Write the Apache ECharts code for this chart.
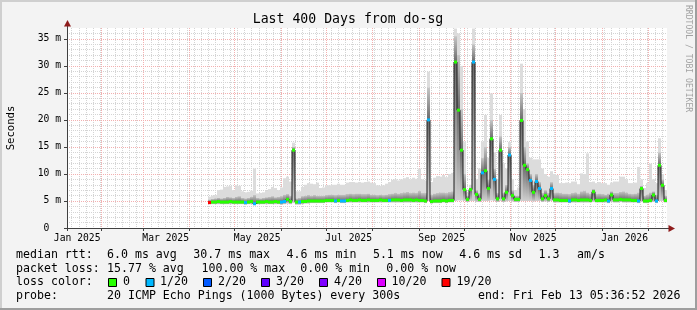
<!DOCTYPE html>
<html>
<head>
<meta charset="utf-8">
<script src="https://cdn.jsdelivr.net/npm/echarts@6.0.0/dist/echarts.min.js"></script>
<style>
html,body{margin:0;padding:0;background:#f3f3f3;}
#chart{width:697px;height:310px;}
</style>
</head>
<body>
<div id="chart"></div>
<script>
// ---------------- data ----------------
const chartTitle = 'Last 400 Days from do-sg';
const yAxisName = 'Seconds';
const endStamp = '2026-02-13T05:36:52Z';
const spanDays = 400;
const sampleStartDay = 95;   // first sample, days after graph start
const sampleStepDays = 2;

// median round-trip time (ms), one value per sample
const medianMs = [
 4.7,4.8,4.8,4.9,4.8,4.8,4.8,4.9,4.8,4.8,
 4.8,4.8,4.7,4.8,4.9,4.5,4.8,4.8,4.8,4.9,
 4.8,4.8,4.9,4.8,4.8,4.9,5.3,4.9,14.4,4.8,
 4.8,4.9,4.9,5.0,5.0,5.0,5.0,5.0,5.0,5.1,
 5.1,5.1,5.0,5.1,5.0,5.0,5.1,5.2,5.1,5.1,
 5.2,5.1,5.1,5.2,5.1,5.1,5.1,5.2,5.1,5.1,
 5.1,5.2,5.2,5.2,5.1,5.2,5.2,5.2,5.1,5.2,
 5.1,5.1,5.0,20.0,4.9,5.0,5.0,5.0,5.1,5.0,
 5.1,5.1,30.7,21.8,14.4,7.1,5.3,7.1,30.7,6.2,
 5.3,10.2,10.6,7.3,16.5,9.0,5.4,14.4,5.4,6.6,
 13.5,6.0,5.3,5.3,19.9,11.6,10.8,8.8,6.6,8.6,
 7.3,5.4,6.0,5.4,7.3,5.2,5.2,5.1,5.1,5.1,
 5.0,5.2,5.2,5.1,5.2,5.2,5.2,5.1,6.7,5.1,
 5.1,5.1,5.2,5.0,6.1,5.2,5.2,5.3,5.2,5.2,
 5.2,5.1,5.1,5.0,7.3,5.0,5.0,5.1,6.1,5.0,
 11.6,7.9,5.1
];
// lost pings out of 20, per sample
const lossPings = [
 19,0,0,0,0,0,0,0,0,0,
 0,0,1,0,0,1,0,0,0,0,
 0,0,0,0,1,1,0,0,0,0,
 1,0,0,0,0,0,0,0,0,0,
 0,0,1,0,1,1,0,0,0,0,
 0,0,0,0,0,0,0,0,0,0,
 1,0,0,0,0,0,0,0,0,0,
 0,0,0,1,0,0,0,0,0,0,
 0,0,0,0,0,0,0,0,1,0,
 0,1,0,0,0,1,0,0,0,0,
 1,0,0,0,0,0,0,1,0,1,
 1,0,0,0,1,0,0,0,0,0,
 1,0,0,0,0,0,0,0,0,0,
 0,0,0,1,0,0,0,0,0,0,
 0,0,0,1,0,0,0,0,0,1,
 0,0,0
];
// smoke: lowest ping, upper quartile-ish, highest ping (ms)
const smokeLowMs = [
 4.4,4.4,4.4,4.4,4.4,4.4,4.4,4.4,4.4,4.4,
 4.4,4.4,4.3,4.4,4.4,4.2,4.4,4.4,4.4,4.4,
 4.4,4.4,4.4,4.4,4.3,4.4,4.5,4.4,4.6,4.3,
 4.3,4.4,4.5,4.5,4.6,4.6,4.6,4.6,4.6,4.7,
 4.7,4.7,4.6,4.7,4.6,4.6,4.7,4.7,4.7,4.7,
 4.7,4.7,4.7,4.7,4.7,4.7,4.7,4.7,4.7,4.7,
 4.7,4.7,4.7,4.7,4.7,4.7,4.7,4.7,4.7,4.7,
 4.7,4.7,4.6,5.0,4.5,4.6,4.6,4.6,4.7,4.6,
 4.7,4.7,5.0,5.1,5.1,5.0,4.8,5.0,5.0,4.8,
 4.8,5.0,5.0,5.0,5.1,5.0,4.8,5.0,4.8,4.9,
 5.0,4.9,4.8,4.8,5.0,5.0,5.0,5.0,4.9,5.0,
 5.0,4.8,4.9,4.8,5.0,4.7,4.7,4.7,4.7,4.7,
 4.6,4.7,4.7,4.7,4.7,4.7,4.7,4.7,4.8,4.7,
 4.7,4.7,4.7,4.6,4.8,4.7,4.7,4.8,4.7,4.7,
 4.7,4.7,4.7,4.6,4.8,4.6,4.6,4.7,4.8,4.6,
 5.0,5.0,4.7
];
const smokeMidMs = [
 5.3,5.4,5.5,5.6,5.5,5.6,5.8,5.7,5.6,5.8,
 5.9,5.6,5.5,5.6,5.8,6.1,5.6,5.5,5.6,5.7,
 5.8,5.9,5.7,5.8,5.9,6.2,6.3,6.0,15.0,5.5,
 5.6,5.9,6.0,6.1,6.0,6.1,6.0,6.0,6.0,6.1,
 6.2,6.2,6.1,6.2,6.2,6.2,6.3,6.4,6.3,6.4,
 6.4,6.3,6.3,6.4,6.2,6.2,6.1,6.2,6.1,6.2,
 6.3,6.4,6.5,6.4,6.5,6.6,6.7,6.5,6.6,6.5,
 6.9,6.5,6.5,26.0,6.2,6.4,6.5,6.6,6.6,6.5,
 6.7,6.8,35.5,32.0,22.0,10.0,6.0,7.5,34.0,7.0,
 6.5,13.0,15.0,9.0,20.0,11.0,6.5,17.0,6.5,8.0,
 15.0,7.0,6.0,6.0,25.0,15.0,12.0,10.0,8.0,10.0,
 8.5,6.5,7.0,6.5,8.5,6.5,6.6,6.5,6.4,6.4,
 6.3,6.5,6.6,6.4,6.8,6.9,6.6,6.4,7.2,6.3,
 6.4,6.3,6.2,6.4,6.8,6.5,6.5,6.7,6.8,6.6,
 6.4,6.3,6.4,6.6,7.8,6.0,6.2,6.6,6.8,6.2,
 14.0,9.0,6.0
];
const smokeHighMs = [
 5.8,6.0,6.1,7.0,7.1,7.6,7.7,7.8,7.0,7.9,
 7.8,6.8,6.6,6.7,6.9,11.0,6.4,6.5,6.6,6.9,
 7.2,7.6,7.4,7.0,7.5,9.2,9.5,8.6,15.8,6.8,
 6.8,7.6,8.0,8.3,8.2,8.1,8.4,7.4,7.5,7.9,
 7.9,8.0,8.0,8.2,8.0,8.0,8.4,8.5,8.5,8.4,
 8.5,8.4,8.5,8.6,8.4,8.3,7.9,7.8,7.9,8.2,
 8.5,8.9,9.0,8.8,9.0,9.2,9.4,9.0,9.3,9.1,
 11.0,9.0,8.8,28.9,8.5,9.3,9.6,9.5,9.8,9.4,
 10.0,10.2,36.9,36.0,30.0,16.0,6.5,8.0,36.9,9.0,
 11.0,16.0,20.9,13.0,24.9,14.0,9.0,20.9,12.0,11.0,
 15.9,9.0,7.0,7.5,30.4,22.0,16.0,13.0,12.7,12.7,
 12.7,11.0,10.0,9.5,10.5,10.0,9.8,8.3,8.3,8.4,
 8.3,8.6,8.6,8.1,10.1,10.0,13.8,8.5,8.6,8.3,
 8.5,8.3,8.3,8.0,8.4,8.6,8.6,9.5,9.5,9.0,
 8.3,8.3,8.4,11.3,9.0,7.4,8.3,11.9,9.0,8.3,
 16.6,10.0,7.0
];

const monthStarts = ['2025-02-01','2025-03-01','2025-04-01','2025-05-01','2025-06-01','2025-07-01',
  '2025-08-01','2025-09-01','2025-10-01','2025-11-01','2025-12-01','2026-01-01','2026-02-01'];
const xLabelMonths = ['2025-01-01','2025-03-01','2025-05-01','2025-07-01','2025-09-01','2025-11-01','2026-01-01'];
const xLabelTexts = ['Jan 2025','Mar 2025','May 2025','Jul 2025','Sep 2025','Nov 2025','Jan 2026'];
const yTickValues = [0,5,10,15,20,25,30,35];
const yMax = 37;

const lossLevels = [0,1,2,3,4,10,19];
const lossLabels = ['0','1/20','2/20','3/20','4/20','10/20','19/20'];
const lossColors = ['#26ff00','#00b8ff','#0059ff','#5e00ff','#7e00ff','#dd00ff','#ff0000'];

const rttStats = ['6.0 ms avg','30.7 ms max','4.6 ms min','5.1 ms now','4.6 ms sd','1.3','am/s'];
const lossStats = ['15.77 % avg','100.00 % max','0.00 % min','0.00 % now'];
const probeText = '20 ICMP Echo Pings (1000 Bytes) every 300s';
const endText = 'end: Fri Feb 13 05:36:52 2026';
const creditText = 'RRDTOOL / TOBI OETIKER';

// ---------------- build ----------------
const DAY = 86400000;
const endTime = Date.parse(endStamp);
const startTime = endTime - spanDays * DAY;
const sampleTimes = medianMs.map((_, i) => startTime + (sampleStartDay + i * sampleStepDays) * DAY);

function lossColor(n) {
  let c = lossColors[0];
  for (let k = 0; k < lossLevels.length; k++) if (n >= lossLevels[k]) c = lossColors[k];
  return c;
}

const smokeData = sampleTimes.map((t, i) => [t, smokeLowMs[i], medianMs[i], smokeMidMs[i], smokeHighMs[i]]);
const medianData = sampleTimes.map((t, i) => [t, medianMs[i]]);
const lossData = sampleTimes.map((t, i) => [t, medianMs[i], lossPings[i]]);

const monthTimes = monthStarts.map(d => Date.parse(d));
const labelTimes = xLabelMonths.map(d => Date.parse(d) + 15 * DAY);
const minorX = [];
for (let t = startTime + 3.1 * DAY; t < endTime; t += 4.8 * DAY) minorX.push(Math.round(t));
const minorY = [];
for (let v = 0; v <= 36; v++) minorY.push(v);

const G = {left: 67, top: 28, width: 600, height: 200};
const MONO = '"DejaVu Sans Mono", monospace';
const majorLine = {color: '#f3b0b0', width: 1, type: [1, 1]};
const minorLine = {color: '#d4d4d4', width: 1, type: [1, 1]};

function vgrad(top, bottom) {
  return {type: 'linear', x: 0, y: 0, x2: 0, y2: 1, global: false,
    colorStops: [{offset: 0, color: top}, {offset: 1, color: bottom}]};
}

function renderSmoke(params, api) {
  const t = api.value(0);
  const lo = api.value(1), med = api.value(2), mid = api.value(3), hi = api.value(4);
  const half = sampleStepDays * DAY / 2;
  const xl = api.coord([t - half, 0])[0];
  const xr = api.coord([t + half, 0])[0];
  const Y = v => api.coord([t, v])[1];
  const w = xr - xl;
  return {type: 'group', children: [
    {type: 'rect', shape: {x: xl, y: Y(hi), width: w, height: Y(mid) - Y(hi)}, style: {fill: '#dcdcdc'}},
    {type: 'rect', shape: {x: xl, y: Y(mid), width: w, height: Y(med) - Y(mid)}, style: {fill: vgrad('#c6c6c6', '#6a6a6a')}},
    {type: 'rect', shape: {x: xl, y: Y(med), width: w, height: Y(lo) - Y(med)}, style: {fill: vgrad('#6a6a6a', '#cfcfcf')}}
  ]};
}

function txt(x, y, s, font, extra) {
  return {type: 'text', x: x, y: y, silent: true,
    style: Object.assign({text: s, font: font, fill: '#000', align: 'left', textAlign: 'left',
      verticalAlign: 'middle', textVerticalAlign: 'middle'}, (extra || {}))};
}

const legendFont = '11.6px ' + MONO;
const graphics = [];
// frame
graphics.push({type: 'rect', shape: {x: 0, y: 0, width: 697, height: 2}, style: {fill: '#cfcfcf'}});
graphics.push({type: 'rect', shape: {x: 0, y: 0, width: 2, height: 310}, style: {fill: '#cfcfcf'}});
graphics.push({type: 'rect', shape: {x: 0, y: 308, width: 697, height: 2}, style: {fill: '#9e9e9e'}});
graphics.push({type: 'rect', shape: {x: 695, y: 0, width: 2, height: 310}, style: {fill: '#9e9e9e'}});
// title & side texts
graphics.push(txt(348, 20, chartTitle, '13.2px ' + MONO, {align: 'center', textAlign: 'center'}));
graphics.push(Object.assign(txt(11, 128, yAxisName, '10.6px ' + MONO, {align: 'center', textAlign: 'center'}), {rotation: Math.PI / 2}));
graphics.push(Object.assign(txt(688, 5, creditText, '8.1px ' + MONO, {fill: '#a2a2a2'}), {rotation: -Math.PI / 2}));
// axes lines & arrows
graphics.push({type: 'line', z: 50, shape: {x1: 67.5, y1: 231, x2: 67.5, y2: 26}, style: {stroke: '#404040', lineWidth: 1}});
graphics.push({type: 'line', z: 50, shape: {x1: 64, y1: 228.5, x2: 669, y2: 228.5}, style: {stroke: '#404040', lineWidth: 1}});
graphics.push({type: 'polygon', z: 50, shape: {points: [[64, 26.5], [71, 26.5], [67.5, 20]]}, style: {fill: '#8e1b1b'}});
graphics.push({type: 'polygon', z: 50, shape: {points: [[668.5, 225], [668.5, 232], [675, 228.5]]}, style: {fill: '#8e1b1b'}});
// legend text
const L1 = 255, L2 = 268.5, L3 = 282.3, L4 = 295.5;
graphics.push(txt(16, L1, 'median rtt:', legendFont));
[107, 193.3, 286.6, 372.9, 459.2, 538.5, 577].forEach((x, k) => graphics.push(txt(x, L1, rttStats[k], legendFont)));
graphics.push(txt(16, L2, 'packet loss:', legendFont));
[107, 201.5, 300.3, 386.3].forEach((x, k) => graphics.push(txt(x, L2, lossStats[k], legendFont)));
graphics.push(txt(16, L3, 'loss color:', legendFont));
const boxX = [108.5, 146, 203.5, 261.5, 319.5, 377.5, 442];
const labX = [123, 160, 218, 276, 334, 391.5, 456.5];
lossLabels.forEach((s, k) => {
  graphics.push({type: 'rect', shape: {x: boxX[k], y: 278.5, width: 8, height: 8},
    style: {fill: lossColors[k], stroke: '#000', lineWidth: 1}});
  graphics.push(txt(labX[k], L3, s, legendFont));
});
graphics.push(txt(16, L4, 'probe:', legendFont));
graphics.push(txt(107, L4, probeText, legendFont));
graphics.push(txt(478, L4, endText, legendFont));

const chart = echarts.init(document.getElementById('chart'), null, {renderer: 'canvas'});
chart.setOption({
  animation: false,
  backgroundColor: '#f3f3f3',
  grid: Object.assign({show: true, backgroundColor: '#ffffff', borderWidth: 0}, G),
  xAxis: [
    {type: 'value', min: startTime, max: endTime, z: 1,
      axisLine: {show: false},
      axisTick: {show: true, customValues: monthTimes, length: 3, lineStyle: {color: '#404040'}},
      axisLabel: {customValues: labelTimes, margin: 5, color: '#000', fontFamily: MONO, fontSize: 9.7,
        formatter: v => { const k = labelTimes.findIndex(t => Math.abs(t - v) < DAY); return k >= 0 ? xLabelTexts[k] : ''; }},
      splitLine: {show: true, lineStyle: majorLine}},
    {type: 'value', min: startTime, max: endTime, z: 0, position: 'bottom',
      axisLine: {show: false}, axisLabel: {show: false},
      axisTick: {show: false, customValues: minorX},
      splitLine: {show: true, lineStyle: minorLine}}
  ],
  yAxis: [
    {type: 'value', min: 0, max: yMax, z: 1,
      axisLine: {show: false},
      axisTick: {show: true, customValues: yTickValues, length: 3, lineStyle: {color: '#404040'}},
      axisLabel: {customValues: yTickValues, margin: 6, color: '#000', fontFamily: MONO, fontSize: 9.7,
        formatter: v => v === 0 ? '0  ' : v + ' m'},
      splitLine: {show: true, lineStyle: majorLine}},
    {type: 'value', min: 0, max: yMax, z: 0,
      axisLine: {show: false}, axisLabel: {show: false},
      axisTick: {show: false, customValues: minorY},
      splitLine: {show: true, lineStyle: minorLine}}
  ],
  series: [
    {type: 'custom', name: 'smoke', xAxisIndex: 0, yAxisIndex: 0, z: 2, renderItem: renderSmoke,
      encode: {x: 0, y: [1, 2, 3, 4]}, data: smokeData, silent: true},
    {type: 'line', name: 'median', xAxisIndex: 0, yAxisIndex: 0, z: 3, step: 'middle', showSymbol: false,
      lineStyle: {color: '#1c1c1c', width: 1}, data: medianData, silent: true},
    {type: 'scatter', name: 'loss', xAxisIndex: 0, yAxisIndex: 0, z: 4, symbol: 'rect', symbolSize: [3, 3],
      encode: {x: 0, y: 1}, data: lossData, silent: true,
      itemStyle: {color: p => lossColor(p.value[2]), opacity: 1}}
  ],
  graphic: graphics
});
</script>
</body>
</html>
